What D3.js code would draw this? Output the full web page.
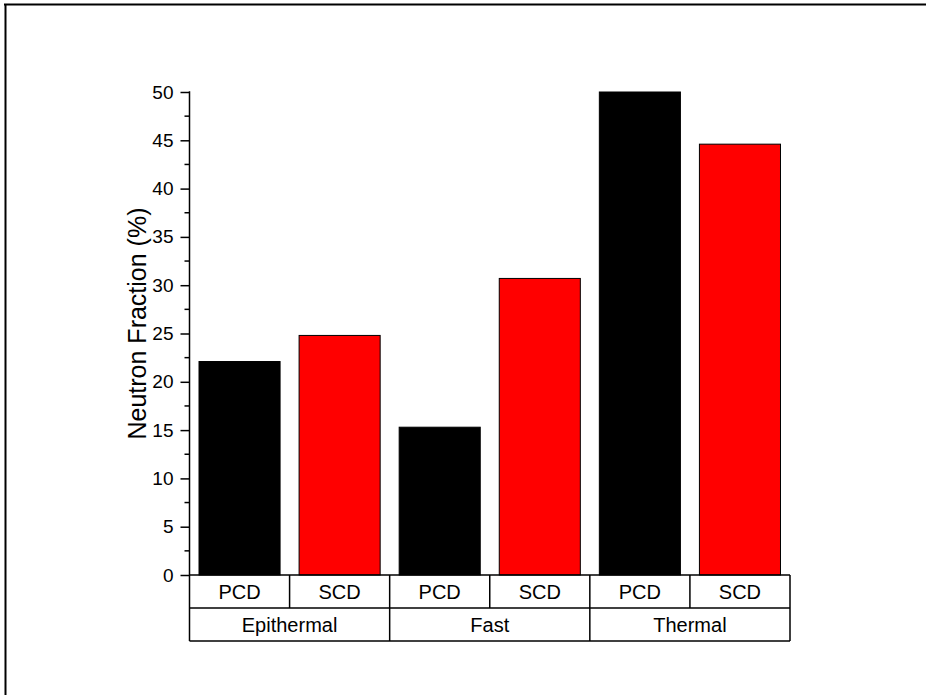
<!DOCTYPE html>
<html>
<head>
<meta charset="utf-8">
<script src="https://cdn.jsdelivr.net/npm/d3@7"></script>
<style>
  html, body { margin: 0; padding: 0; background: #fff; }
  svg { display: block; }
  text { font-family: Arial, "Liberation Sans", sans-serif; fill: #000; }
</style>
</head>
<body>
<svg id="chart" width="926" height="695"></svg>
<script>
// ---- data ----
const groups = ["Epithermal", "Fast", "Thermal"];
const detectors = ["PCD", "SCD"];
const pcdValues = [22.1, 15.3, 50.0];
const scdValues = [24.8, 30.7, 44.6];
const detectorColors = ["#000000", "#ff0000"];
const yTicks = [0, 5, 10, 15, 20, 25, 30, 35, 40, 45, 50];
const yLabel = "Neutron Fraction (%)";

// build a flat table from the arrays
const rows = [];
groups.forEach((g, gi) => {
  rows.push({ key: g + "-PCD", group: g, det: detectors[0], value: pcdValues[gi], color: detectorColors[0] });
  rows.push({ key: g + "-SCD", group: g, det: detectors[1], value: scdValues[gi], color: detectorColors[1] });
});

const svg = d3.select("#chart");
const plotLeft = 189.5, plotRight = 790, plotTop = 92, plotBottom = 575;
const row1 = 608, row2 = 641;

// frame (top and left edges visible)
svg.append("line").attr("x1", 4).attr("x2", 926).attr("y1", 4.5).attr("y2", 4.5)
  .attr("stroke", "#000").attr("stroke-width", 2);
svg.append("line").attr("x1", 5.5).attr("x2", 5.5).attr("y1", 4).attr("y2", 695)
  .attr("stroke", "#000").attr("stroke-width", 2);

const x = d3.scaleBand().domain(rows.map(d => d.key)).range([plotLeft, plotRight]).padding(0);
const xg = d3.scaleBand().domain(groups).range([plotLeft, plotRight]).padding(0);
const y = d3.scaleLinear().domain([0, 50]).range([plotBottom, plotTop]);

const barW = x.bandwidth() * 0.81;

// bars
svg.append("g").selectAll("rect").data(rows).join("rect")
  .attr("x", d => x(d.key) + (x.bandwidth() - barW) / 2)
  .attr("y", d => y(d.value))
  .attr("width", barW)
  .attr("height", d => y(0) - y(d.value))
  .attr("fill", d => d.color)
  .attr("stroke", "#000")
  .attr("stroke-width", 1);

// y axis
const yAxis = d3.axisLeft(y).tickValues(yTicks).tickSize(9).tickPadding(7).tickFormat(d3.format("d"));
const ga = svg.append("g").attr("transform", `translate(${plotLeft},0)`).call(yAxis);
ga.select(".domain").remove();
ga.selectAll(".tick line").attr("stroke", "#000").attr("stroke-width", 1.5);
ga.selectAll(".tick text").style("font-size", "19px").style("font-family", "Arial, 'Liberation Sans', sans-serif");

// minor ticks
const minor = yTicks.slice(0, -1).map(v => v + 2.5);
svg.append("g").selectAll("line").data(minor).join("line")
  .attr("x1", plotLeft - 5).attr("x2", plotLeft)
  .attr("y1", d => y(d)).attr("y2", d => y(d))
  .attr("stroke", "#000").attr("stroke-width", 1.5);

// axis line (extends down through the category table)
svg.append("line").attr("x1", plotLeft).attr("x2", plotLeft).attr("y1", plotTop - 0.75).attr("y2", row2)
  .attr("stroke", "#000").attr("stroke-width", 1.5);

// category table
const tbl = svg.append("g").attr("stroke", "#000").attr("stroke-width", 1.5);
[plotBottom, row1, row2].forEach(yy => {
  tbl.append("line").attr("x1", plotLeft).attr("x2", plotRight).attr("y1", yy).attr("y2", yy);
});
rows.forEach(d => {
  tbl.append("line").attr("x1", x(d.key) + x.bandwidth()).attr("x2", x(d.key) + x.bandwidth())
    .attr("y1", plotBottom).attr("y2", row1);
});
groups.forEach(g => {
  tbl.append("line").attr("x1", xg(g) + xg.bandwidth()).attr("x2", xg(g) + xg.bandwidth())
    .attr("y1", row1).attr("y2", row2);
});

svg.append("g").selectAll("text").data(rows).join("text")
  .attr("x", d => x(d.key) + x.bandwidth() / 2)
  .attr("y", (plotBottom + row1) / 2)
  .attr("dy", "0.35em")
  .attr("text-anchor", "middle")
  .style("font-size", "20px")
  .text(d => d.det);

svg.append("g").selectAll("text").data(groups).join("text")
  .attr("x", d => xg(d) + xg.bandwidth() / 2)
  .attr("y", (row1 + row2) / 2)
  .attr("dy", "0.35em")
  .attr("text-anchor", "middle")
  .style("font-size", "20px")
  .text(d => d);

// y label
svg.append("text")
  .attr("transform", `translate(146, ${(plotTop + plotBottom) / 2 - 10}) rotate(-90)`)
  .attr("text-anchor", "middle")
  .style("font-size", "25px")
  .text(yLabel);
</script>
</body>
</html>
